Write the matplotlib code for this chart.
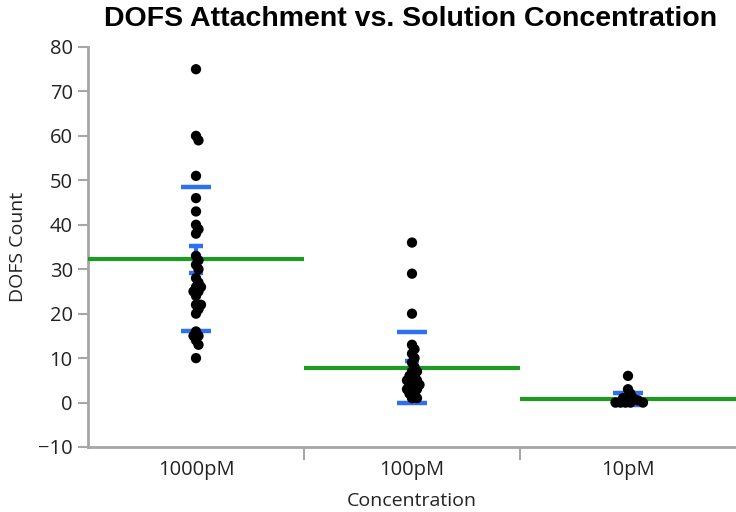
import numpy as np
import matplotlib.pyplot as plt

# data
concentrations = ["1000pM", "100pM", "10pM"]
counts_1000 = [75, 60, 59, 51, 46, 43, 40, 39, 38, 33, 32, 31, 30, 28, 27, 26, 26,
               25, 25, 24, 22, 22, 21, 20, 16, 15, 15, 14, 13, 10]
counts_100 = [36, 29, 20, 13, 12, 11, 10, 9, 8, 7, 7, 6, 6, 5, 5, 5, 4, 4, 4,
              3, 3, 3, 2, 2, 1, 1]
counts_10 = [6, 3, 2, 1, 1, 1, 0.5, 0, 0, 0, 0, 0]
means = [32.2, 7.8, 0.8]
sds = [16.2, 8.0, 1.3]
ses = [3.0, 1.5, 0.4]

groups = [counts_1000, counts_100, counts_10]

GREEN = "#1e9a22"
BLUE = "#2f6ff2"
GRAY = "#a6a6a6"

fig = plt.figure(figsize=(7.36, 5.12), dpi=100)
ax = fig.add_axes([88 / 736, 65 / 512, 648 / 736, 400 / 512])
ax.set_xlim(-0.5, 2.5)
ax.set_ylim(-10, 80)

# pixels per data unit, used to spread the dots like a swarm
px_x = 648 / 3
px_y = 400 / 90


def swarm(vals, min_dist=4.5, step=2.5):
    placed = []
    offsets = []
    for v in vals:
        py = v * px_y
        k = 0
        while True:
            cands = [0.0] if k == 0 else [k * step, -k * step]
            ok = None
            for c in cands:
                if all((c - qx) ** 2 + (py - qy) ** 2 >= min_dist ** 2 for qx, qy in placed):
                    ok = c
                    break
            if ok is not None:
                placed.append((ok, py))
                offsets.append(ok / px_x)
                break
            k += 1
    return np.array(offsets)


for i, vals in enumerate(groups):
    # mean line across the whole category
    ax.plot([i - 0.5, i + 0.5], [means[i], means[i]], color=GREEN, lw=3, zorder=3,
            solid_capstyle="butt")
    # SD bars
    for y in (means[i] - sds[i], means[i] + sds[i]):
        ax.plot([i - 0.068, i + 0.068], [y, y], color=BLUE, lw=3.2, zorder=2,
                solid_capstyle="butt")
    # SE bars with stem
    lo, hi = means[i] - ses[i], means[i] + ses[i]
    ax.plot([i, i], [lo, hi], color=BLUE, lw=3, zorder=2)
    for y in (lo, hi):
        ax.plot([i - 0.032, i + 0.032], [y, y], color=BLUE, lw=3.2, zorder=2,
                solid_capstyle="butt")
    xs = i + swarm(vals)
    ax.scatter(xs, vals, s=55, color="black", edgecolors="none", zorder=4)

ax.set_yticks(np.arange(-10, 81, 10))
ax.set_xticks(range(3))
ax.set_xticklabels(concentrations)
ax.set_xticks([0.5, 1.5], minor=True)
ax.tick_params(axis="x", which="major", length=0, pad=9)
ax.tick_params(axis="x", which="minor", length=9, width=1.5, color=GRAY)
ax.tick_params(axis="y", length=7, width=1.5, color=GRAY, pad=4)
ax.tick_params(labelsize=14.5, labelcolor="#222222")

for s in ("top", "right"):
    ax.spines[s].set_visible(False)
for s in ("left", "bottom"):
    ax.spines[s].set_color(GRAY)
    ax.spines[s].set_linewidth(2)

ax.set_xlabel("Concentration", fontsize=14, labelpad=9, color="#222222")
ax.set_ylabel("DOFS Count", fontsize=14, labelpad=8, color="#222222")
fig.text(0.558, 0.962, "DOFS Attachment vs. Solution Concentration",
         ha="center", va="center", fontsize=20.5, fontweight="bold",
         family="Liberation Sans")

for t in ax.get_xticklabels() + ax.get_yticklabels():
    t.set_family("Open Sans")
ax.xaxis.label.set_family("Open Sans")
ax.yaxis.label.set_family("Open Sans")

fig.savefig("out.png", dpi=100)
